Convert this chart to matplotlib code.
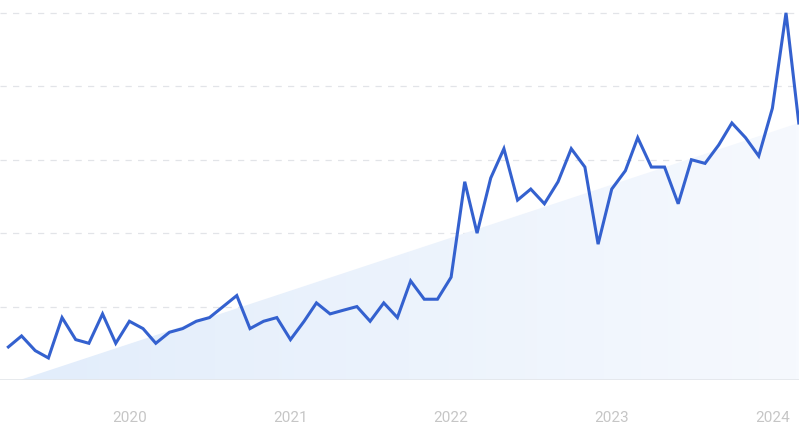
import numpy as np
import pandas as pd
import matplotlib
matplotlib.use("Agg")
from matplotlib import pyplot as plt
from matplotlib.patches import Polygon
import matplotlib.dates as mdates

# monthly interest, Apr 2019 .. Mar 2024
months = pd.date_range("2019-04-01", periods=60, freq="MS")
values = [9, 12, 8, 6, 17, 11, 10, 18, 10, 16,
          14, 10, 13, 14, 16, 17, 20, 23, 14, 16,
          17, 11, 16, 21, 18, 19, 20, 16, 21, 17,
          27, 22, 22, 28, 54, 40, 55, 63, 49, 52,
          48, 54, 63, 58, 37, 52, 57, 66, 58, 58,
          48, 60, 59, 64, 70, 66, 61, 74, 100, 70]
years = [2020, 2021, 2022, 2023, 2024]
trend_start = pd.Timestamp("2019-04-27")

plt.rcParams['font.family'] = ['Roboto', 'DejaVu Sans']
fig = plt.figure(figsize=(8.08, 4.23), dpi=100)
ax = fig.add_axes([0, 43 / 423, 799 / 808, 380 / 423])

x = mdates.date2num(months)
x0 = mdates.date2num(trend_start)
ax.set_xlim(x[0] - 19, x[-1] + 0.5)
ax.set_ylim(0, 103.5)

# trend triangle with a soft gradient
tri = Polygon([(x0, 0), (x[-1], values[-1]), (x[-1], 0)], closed=True,
              facecolor="none", edgecolor="none")
ax.add_patch(tri)
grad = np.linspace(0, 1, 256).reshape(1, -1)
from matplotlib.colors import LinearSegmentedColormap
cmap = LinearSegmentedColormap.from_list("fade", ["#e2edfb", "#f6f9fe"])
img = ax.imshow(grad, extent=[x0, x[-1], 0, values[-1]], aspect="auto",
                cmap=cmap, origin="lower", zorder=1)
img.set_clip_path(tri)

for g in [20, 40, 60, 80, 100]:
    ax.axhline(g, color="#e2e4e8", lw=0.9, ls=(0, (5, 5)), zorder=0)
ax.axhline(0, color="#e3e6ea", lw=1.2, zorder=2)

ax.plot(x, values, color="#3461cf", lw=2.2, solid_joinstyle="miter", zorder=3)

ticks = [mdates.date2num(pd.Timestamp(f"{y}-01-01")) for y in years]
ax.set_xticks(ticks)
ax.set_xticklabels([str(y) for y in years])
ax.tick_params(axis="x", length=0, pad=22, labelsize=11, labelcolor="#c6c6c6")
ax.set_yticks([])
for s in ax.spines.values():
    s.set_visible(False)

fig.savefig("out.png", dpi=100)
